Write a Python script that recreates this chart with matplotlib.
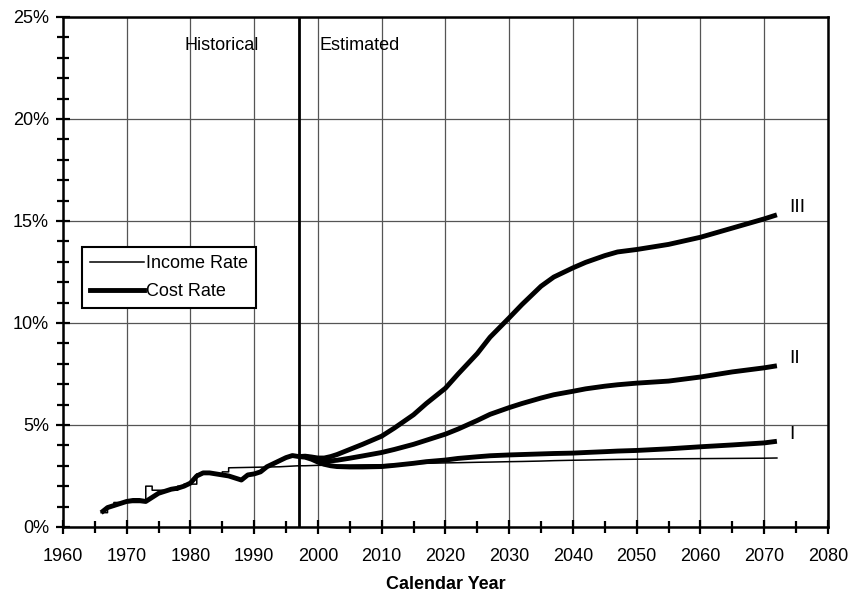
import numpy as np
import matplotlib
matplotlib.use("Agg")
import matplotlib.pyplot as plt
from matplotlib.ticker import MultipleLocator, FuncFormatter

plt.rcParams['font.family'] = ['Liberation Sans', 'DejaVu Sans']

# Historical rates (percent of taxable payroll)
hist_years = list(range(1966, 1998))
hist_cost = [0.7, 0.95, 1.05, 1.15, 1.25, 1.3, 1.3, 1.25, 1.45, 1.65, 1.75, 1.85,
             1.9, 2.0, 2.15, 2.5, 2.65, 2.65, 2.6, 2.55, 2.5, 2.4, 2.3, 2.55,
             2.6, 2.7, 2.95, 3.1, 3.25, 3.4, 3.5, 3.45]

# Income rate is a step function of the tax rate
inc_years = [1966, 1967, 1967, 1968, 1968, 1973, 1973, 1974, 1974, 1978, 1978,
             1979, 1979, 1981, 1981, 1985, 1985, 1986, 1986, 1994, 1997]
inc_hist = [0.7, 0.7, 1.0, 1.0, 1.2, 1.2, 2.0, 2.0, 1.8, 1.8, 2.0,
            2.0, 2.1, 2.1, 2.6, 2.6, 2.7, 2.7, 2.9, 2.95, 3.0]

# Projections
proj_years = [1997, 1998, 1999, 2000, 2001, 2002, 2003, 2005, 2007, 2010, 2012,
              2015, 2017, 2020, 2022, 2025, 2027, 2030, 2032, 2035, 2037, 2040,
              2042, 2045, 2047, 2050, 2055, 2060, 2065, 2070, 2072]
cost_I = [3.45, 3.42, 3.32, 3.18, 3.07, 3.0, 2.96, 2.94, 2.94, 2.96, 3.02,
          3.12, 3.2, 3.28, 3.36, 3.44, 3.49, 3.53, 3.55, 3.58, 3.6, 3.62,
          3.65, 3.69, 3.72, 3.75, 3.83, 3.93, 4.02, 4.12, 4.2]
cost_II = [3.45, 3.45, 3.38, 3.28, 3.24, 3.24, 3.27, 3.37, 3.48, 3.65, 3.8,
           4.05, 4.25, 4.55, 4.8, 5.22, 5.52, 5.85, 6.05, 6.32, 6.48, 6.65,
           6.77, 6.9, 6.97, 7.05, 7.15, 7.35, 7.6, 7.8, 7.9]
cost_III = [3.45, 3.47, 3.43, 3.38, 3.38, 3.45, 3.55, 3.8, 4.05, 4.45, 4.85,
            5.5, 6.05, 6.8, 7.5, 8.5, 9.3, 10.25, 10.9, 11.8, 12.25, 12.7,
            12.97, 13.3, 13.48, 13.6, 13.85, 14.2, 14.65, 15.1, 15.3]
income_proj = [3.0, 3.0, 3.01, 3.02, 3.02, 3.03, 3.03, 3.03, 3.04, 3.05, 3.07,
               3.1, 3.12, 3.14, 3.15, 3.17, 3.18, 3.2, 3.21, 3.23, 3.25, 3.27,
               3.28, 3.3, 3.31, 3.32, 3.34, 3.35, 3.36, 3.37, 3.38]

alt_labels = ['I', 'II', 'III']

fig = plt.figure(figsize=(8.5, 6.05), dpi=100)
ax = fig.add_axes([0.074, 0.129, 0.9, 0.843])

thick = 3.5
thin = 1.1
ax.plot(hist_years, hist_cost, color='black', lw=thick, solid_capstyle='butt', zorder=3)
ax.plot(inc_years, inc_hist, color='black', lw=thin, zorder=3)
ax.plot(proj_years, income_proj, color='black', lw=thin, zorder=3)
for c in (cost_I, cost_II, cost_III):
    ax.plot(proj_years, c, color='black', lw=thick, solid_capstyle='butt', zorder=3)

# Series labels at the end of each cost line
for lab, c in zip(alt_labels, (cost_I, cost_II, cost_III)):
    ax.text(proj_years[-1] + 2.0, c[-1] + 0.35, lab, fontsize=14, ha='left', va='center')

# Divider between historical and estimated
ax.axvline(1997, color='black', lw=2, zorder=2)
ax.text(1984.9, 23.6, 'Historical', fontsize=13, ha='center', va='center')
ax.text(2000.2, 23.6, 'Estimated', fontsize=13, ha='left', va='center')

ax.set_xlim(1960, 2080)
ax.set_ylim(0, 25)
ax.xaxis.set_major_locator(MultipleLocator(10))
ax.xaxis.set_minor_locator(MultipleLocator(5))
ax.yaxis.set_major_locator(MultipleLocator(5))
ax.yaxis.set_minor_locator(MultipleLocator(1))
ax.yaxis.set_major_formatter(FuncFormatter(lambda v, p: f"{v:.0f}%"))
ax.grid(which='major', color='#555555', lw=0.9, zorder=1)

ax.tick_params(which='both', direction='inout', width=1.6, labelsize=13, pad=5)
ax.tick_params(which='major', length=10)
ax.tick_params(which='minor', length=8)
ax.tick_params(axis='x', which='major', pad=10)
for s in ax.spines.values():
    s.set_linewidth(1.8)

ax.set_xlabel('Calendar Year', fontsize=13, fontweight='bold', labelpad=8)

# Legend with proxy lines
h1, = ax.plot([], [], color='black', lw=thin, label='Income Rate')
h2, = ax.plot([], [], color='black', lw=thick, label='Cost Rate')
leg = ax.legend(handles=[h1, h2], loc='upper left', bbox_to_anchor=(0.025, 0.549),
                borderaxespad=0, fontsize=13, handlelength=3.0, handletextpad=0.1,
                fancybox=False, framealpha=1, edgecolor='black', borderpad=0.45,
                labelspacing=0.6)
leg.get_frame().set_linewidth(1.5)

fig.savefig('out.png', dpi=100)
